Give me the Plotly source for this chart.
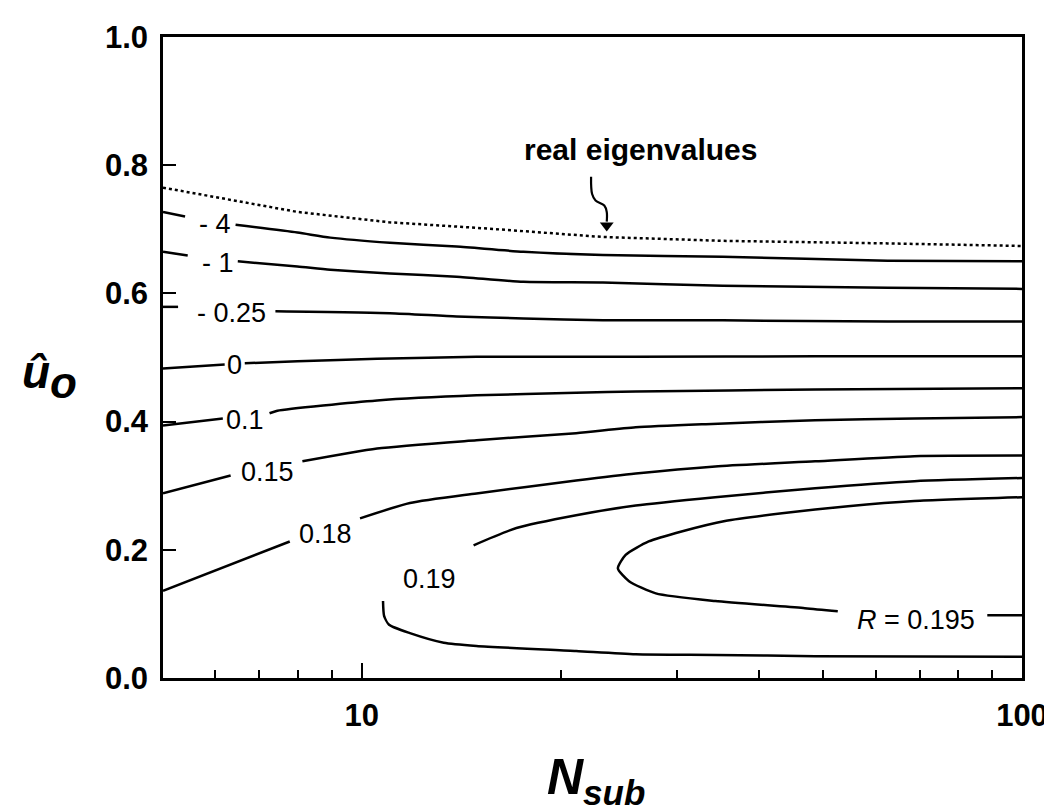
import math
import plotly.graph_objects as go

# ---------------- data (N_sub, u_o); None = break at a label
N_real = [5.0, 6.2, 8.0, 11.0, 15.6, 23.2, 35.2, 62.6, 100]
U_real = [0.765, 0.748, 0.727, 0.711, 0.701, 0.688, 0.682, 0.678, 0.674]

N_m4 = [5.0, 5.40, None, 6.44, 7.99, 8.96, 11.03, 13.92, 17.57, 23.19, 35.2, 62.6, 100]
U_m4 = [0.727, 0.720, None, 0.707, 0.695, 0.687, 0.679, 0.673, 0.665, 0.660, 0.657, 0.651, 0.650]

N_m1 = [5.0, 5.45, None, 6.49, 7.99, 8.96, 11.03, 13.92, 17.57, 23.19, 35.2, 62.6, 100]
U_m1 = [0.665, 0.659, None, 0.650, 0.642, 0.637, 0.631, 0.626, 0.618, 0.617, 0.612, 0.609, 0.607]

N_m025 = [5.0, 5.27, None, 7.40, 11.03, 13.92, 17.57, 23.19, 35.2, 62.6, 100]
U_m025 = [0.579, 0.579, None, 0.572, 0.569, 0.564, 0.561, 0.558, 0.558, 0.556, 0.556]

N_0 = [5.0, 6.20, None, 6.65, 7.99, 10.55, 14.92, 26.0, 48.6, 100]
U_0 = [0.483, 0.489, None, 0.491, 0.494, 0.498, 0.501, 0.501, 0.502, 0.502]

N_01 = [5.0, 6.16, None, 7.25, 7.45, 10.55, 14.92, 21.12, 26.0, 48.6, 100]
U_01 = [0.394, 0.405, None, 0.413, 0.417, 0.433, 0.441, 0.445, 0.447, 0.450, 0.452]

N_015 = [5.0, 6.33, None, 8.13, 10.55, 14.92, 21.12, 26.0, 33.2, 48.6, 68.7, 100]
U_015 = [0.288, 0.316, None, 0.338, 0.358, 0.371, 0.382, 0.391, 0.396, 0.402, 0.405, 0.407]

N_018 = [5.0, 7.78, None, 9.94, 11.83, 14.92, 21.12, 26.0, 34.3, 48.6, 68.7, 100]
U_018 = [0.136, 0.213, None, 0.249, 0.273, 0.288, 0.308, 0.319, 0.330, 0.338, 0.346, 0.347]

N_019 = [10.77, 10.81, 11.0, 11.83, 13.31, 14.92, 21.12, 26.0, 34.3, 48.6, 100,
         None, 14.77, 17.15, 21.12, 26.0, 34.3, 48.6, 68.7, 100]
U_019 = [0.120, 0.097, 0.083, 0.070, 0.055, 0.050, 0.042, 0.037, 0.036, 0.034, 0.033,
         None, 0.207, 0.234, 0.254, 0.269, 0.282, 0.296, 0.307, 0.312]

N_0195 = [100, 68.7, 54.5, 43.3, 35.5, 30.6, 27.2, 25.1, 24.43, 25.4, 27.88, 34.3, 46.9, 52.6,
          None, 88.6, 100]
U_0195 = [0.282, 0.276, 0.268, 0.257, 0.245, 0.229, 0.213, 0.192, 0.171, 0.151, 0.132, 0.120, 0.109, 0.104,
          None, 0.098, 0.098]

CONTOURS = [(N_m4, U_m4), (N_m1, U_m1), (N_m025, U_m025), (N_0, U_0), (N_01, U_01),
            (N_015, U_015), (N_018, U_018), (N_019, U_019), (N_0195, U_0195)]

LABELS = ["- 4", "- 1", "- 0.25", "0", "0.1", "0.15", "0.18", "0.19", "<i>R</i> = 0.195"]
LABEL_N = [6.0, 6.05, 6.35, 6.42, 6.65, 7.20, 8.80, 12.68, 69.2]
LABEL_U = [0.709, 0.648, 0.570, 0.488, 0.402, 0.322, 0.224, 0.154, 0.090]

# curved arrow pointing at the real-eigenvalue boundary
ARROW_N = [22.25, 22.33, 22.6, 23.3, 23.5, 23.5]
ARROW_U = [0.782, 0.755, 0.745, 0.737, 0.727, 0.712]
ARROW_HEAD = (23.5, 0.706)
NOTE_POS = (26.4, 0.824)

X_TICKS = [10, 100]
X_MINOR = [6, 7, 8, 9, 20, 30, 40, 50, 60, 70, 80, 90]
Y_TICKS = [0.0, 0.2, 0.4, 0.6, 0.8, 1.0]
Y_TICKTEXT = ["0.0", "0.2", "0.4", "0.6", "0.8", "1.0"]

FONT = "Liberation Sans, Arial, Helvetica, sans-serif"

fig = go.Figure()

fig.add_trace(go.Scatter(x=N_real, y=U_real, mode="lines",
                         line=dict(color="black", width=2.5, dash="dot"),
                         showlegend=False, hoverinfo="skip"))

for xs, ys in CONTOURS:
    fig.add_trace(go.Scatter(x=xs, y=ys, mode="lines", connectgaps=False,
                             line=dict(color="black", width=2.5, shape="spline", smoothing=0.6),
                             showlegend=False, hoverinfo="skip"))

fig.add_trace(go.Scatter(x=ARROW_N, y=ARROW_U, mode="lines",
                         line=dict(color="black", width=2.2, shape="spline", smoothing=1.0),
                         showlegend=False, hoverinfo="skip"))
fig.add_trace(go.Scatter(x=[ARROW_HEAD[0]], y=[ARROW_HEAD[1]], mode="markers",
                         marker=dict(symbol="triangle-down", size=12, color="black",
                                     line=dict(width=0)),
                         showlegend=False, hoverinfo="skip"))

annotations = []
for txt, n, u in zip(LABELS, LABEL_N, LABEL_U):
    annotations.append(dict(x=math.log10(n), y=u, xref="x", yref="y", text=txt,
                            showarrow=False, xanchor="center", yanchor="middle",
                            font=dict(family=FONT, size=27, color="black")))

annotations.append(dict(x=math.log10(NOTE_POS[0]), y=NOTE_POS[1], xref="x", yref="y",
                        text="<b>real eigenvalues</b>", showarrow=False,
                        xanchor="center", yanchor="middle",
                        font=dict(family=FONT, size=30, color="black")))

# axis titles
annotations.append(dict(x=-0.132, y=0.47, xref="paper", yref="paper",
                        text="<b><i>û<sub><span style='font-size:44px'>o</span></sub></i></b>",
                        showarrow=False, xanchor="center", yanchor="middle",
                        font=dict(family=FONT, size=46, color="black")))
annotations.append(dict(x=0.504, y=-0.16, xref="paper", yref="paper",
                        text="<b><i>N<sub>sub</sub></i></b>",
                        showarrow=False, xanchor="center", yanchor="middle",
                        font=dict(family=FONT, size=50, color="black")))

fig.update_layout(
    width=1052, height=812,
    margin=dict(l=155, r=34, t=28, b=142),
    paper_bgcolor="white", plot_bgcolor="white",
    annotations=annotations,
    showlegend=False,
    xaxis=dict(type="log", range=[math.log10(5), 2],
               tickmode="array", tickvals=X_TICKS, ticktext=[str(v) for v in X_TICKS],
               ticks="inside", ticklen=15, tickwidth=2, tickcolor="black",
               showline=True, linewidth=2.5, linecolor="black", mirror=True,
               showgrid=False, zeroline=False, ticklabelstandoff=8,
               minor=dict(tickvals=X_MINOR, ticks="inside", ticklen=8, tickwidth=2,
                          tickcolor="black", showgrid=False),
               tickfont=dict(family=FONT, size=31, color="black", weight="bold")),
    yaxis=dict(range=[0, 1],
               tickmode="array", tickvals=Y_TICKS, ticktext=Y_TICKTEXT,
               ticks="inside", ticklen=13, tickwidth=2, tickcolor="black",
               showline=True, linewidth=2.5, linecolor="black", mirror=True,
               showgrid=False, zeroline=False, ticklabelstandoff=6,
               tickfont=dict(family=FONT, size=31, color="black", weight="bold")),
)

fig.write_html("out.html")
